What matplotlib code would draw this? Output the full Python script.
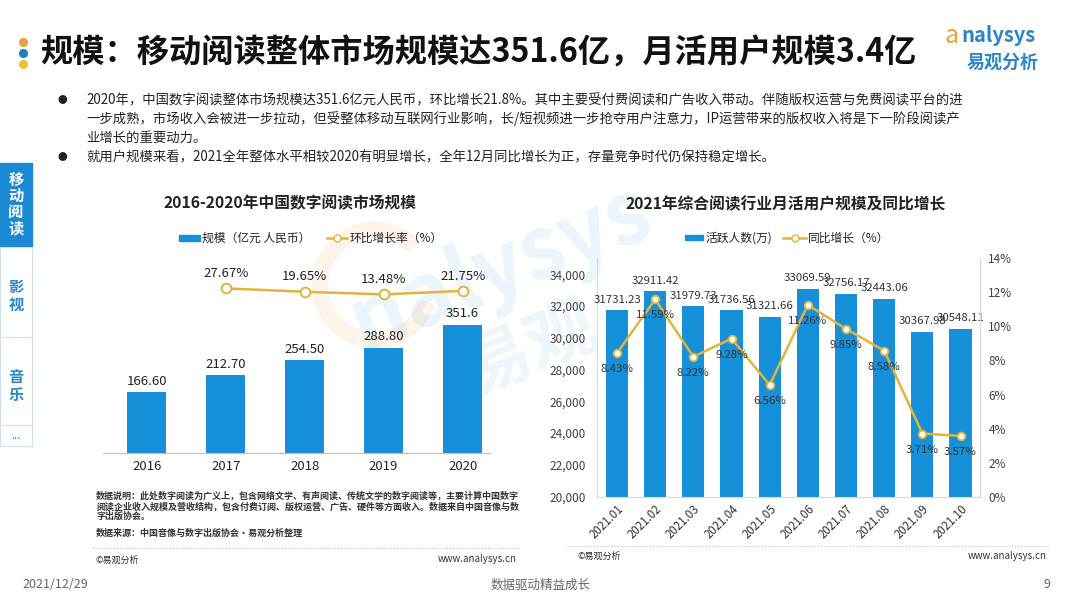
import matplotlib
matplotlib.use('Agg')
import matplotlib.pyplot as plt
from matplotlib.patches import Rectangle, Arc
from matplotlib.lines import Line2D
from matplotlib.ticker import FuncFormatter

plt.rcParams['font.family'] = ['Noto Sans CJK SC', 'DejaVu Sans']

# left chart data
years = ['2016', '2017', '2018', '2019', '2020']
market_size = [166.60, 212.70, 254.50, 288.80, 351.6]
size_labels = ['166.60', '212.70', '254.50', '288.80', '351.6']
growth_years = ['2017', '2018', '2019', '2020']
growth_rate = [27.67, 19.65, 13.48, 21.75]

# right chart data
months = ['2021.01', '2021.02', '2021.03', '2021.04', '2021.05',
          '2021.06', '2021.07', '2021.08', '2021.09', '2021.10']
mau = [31731.23, 32911.42, 31979.73, 31736.56, 31321.66,
       33069.59, 32756.17, 32443.06, 30367.98, 30548.11]
yoy = [8.43, 11.59, 8.22, 9.28, 6.56, 11.26, 9.85, 8.58, 3.71, 3.57]

BLUE = '#1690D8'
GOLD = '#E3B33D'
DARK = '#222222'

W, H = 1080, 608
fig = plt.figure(figsize=(10.8, 6.08), dpi=100)


def fx(x):
    return x / W


def fy(y):
    return 1 - y / H


def ftext(x, y, s, **kw):
    kw.setdefault('va', 'center')
    return fig.text(fx(x), fy(y), s, **kw)


# watermark behind the charts
ftext(500, 268, 'nalysys', fontsize=62, weight='bold', style='italic',
      color='#6AB2E2', alpha=0.13, rotation=22, ha='center', zorder=-5)
ftext(530, 350, '易观', fontsize=50, weight='bold', color='#6AB2E2',
      alpha=0.11, rotation=22, ha='center', zorder=-5)
fig.patches.append(Arc((fx(375), fy(285)), 110 / W, 110 / H, angle=0,
                       theta1=60, theta2=330, lw=12, color='#F2B25A',
                       alpha=0.12, transform=fig.transFigure, zorder=-5))

# title
for yy, c in zip([41.7, 52.7, 64], ['#E8A33C', '#1F7FBF', '#E8C33C']):
    fig.lines.append(Line2D([fx(22.7)], [fy(yy)], marker='o', ms=5.5,
                            color=c, transform=fig.transFigure))
ftext(40, 53, '规模：移动阅读整体市场规模达351.6亿，月活用户规模3.4亿',
      fontsize=23.2, weight='bold', color='#111111')

# logo
ftext(944, 36, 'a', fontsize=18, style='italic', color='#E9A23B')
ftext(961, 36, 'nalysys', fontsize=14.5, style='italic', weight='bold',
      color='#2B86C5')
ftext(1003, 62, '易观分析', fontsize=13, weight='bold', color='#2B86C5',
      ha='center')

# bullet text
bullets = [
    (100, True, '2020年，中国数字阅读整体市场规模达351.6亿元人民币，环比增长21.8%。其中主要受付费阅读和广告收入带动。伴随版权运营与免费阅读平台的进'),
    (119, False, '一步成熟，市场收入会被进一步拉动，但受整体移动互联网行业影响，长/短视频进一步抢夺用户注意力，IP运营带来的版权收入将是下一阶段阅读产'),
    (138, False, '业增长的重要动力。'),
    (157, True, '就用户规模来看，2021全年整体水平相较2020有明显增长，全年12月同比增长为正，存量竞争时代仍保持稳定增长。'),
]
for yy, dot, s in bullets:
    if dot:
        ftext(62, yy, '●', fontsize=7, color=DARK, ha='center')
    ftext(86, yy, s, fontsize=9.6, color=DARK)

# side navigation
fig.patches.append(Rectangle((0, fy(247)), 32 / W, 84 / H, color='#1A8AD4',
                             transform=fig.transFigure))
for i, ch in enumerate('移动阅读'):
    ftext(16, 180 + i * 16, ch, fontsize=11, weight='bold', color='white',
          ha='center')
for top, bot in [(247, 337), (337, 425), (425, 446)]:
    fig.patches.append(Rectangle((0, fy(bot)), 32 / W, (bot - top) / H,
                                 facecolor='white', edgecolor='#CFE0EE',
                                 lw=0.8, transform=fig.transFigure))
for i, ch in enumerate('影视'):
    ftext(16, 287 + i * 18, ch, fontsize=11, weight='bold', color='#2A8AC8',
          ha='center')
for i, ch in enumerate('音乐'):
    ftext(16, 377 + i * 18, ch, fontsize=11, weight='bold', color='#2A8AC8',
          ha='center')
ftext(16, 436, '...', fontsize=8, color='#2A8AC8', ha='center')

# ---------------- left chart ----------------
ftext(290, 203, '2016-2020年中国数字阅读市场规模', fontsize=11.3, weight='bold',
      color=DARK, ha='center')
fig.patches.append(Rectangle((fx(179), fy(241)), 21 / W, 6 / H, color=BLUE,
                             transform=fig.transFigure))
ftext(202, 238, '规模（亿元 人民币）', fontsize=8.5, color=DARK)
fig.lines.append(Line2D([fx(327), fx(347)], [fy(238)] * 2, color=GOLD, lw=1.8,
                        transform=fig.transFigure))
fig.lines.append(Line2D([fx(337)], [fy(238)], color=GOLD, marker='o', ms=5,
                        mfc='white', mec=GOLD, transform=fig.transFigure))
ftext(350, 238, '环比增长率（%）', fontsize=8.5, color=DARK)

ax1 = fig.add_axes([fx(103), fy(453), 387 / W, 188 / H])
ax1.patch.set_alpha(0)
x1 = list(range(len(years)))
ax1.bar(x1, market_size, width=0.5, color=BLUE)
for xi, v, s in zip(x1, market_size, size_labels):
    ax1.annotate(s, (xi, v), xytext=(0, 3), textcoords='offset points',
                 ha='center', va='bottom', fontsize=9.5, color=DARK)
ax1.set_xlim(-0.553, 4.346)
ax1.set_ylim(0, 515)
ax1.set_xticks(x1)
ax1.set_xticklabels(years, fontsize=9.5, color=DARK)
ax1.tick_params(axis='x', length=0, pad=5)
ax1.set_yticks([])
for s in ['top', 'left', 'right']:
    ax1.spines[s].set_visible(False)
ax1.spines['bottom'].set_color('#BFBFBF')

ax1b = ax1.twinx()
gx = [years.index(y) for y in growth_years]
ax1b.plot(gx, growth_rate, color=GOLD, lw=1.8, marker='o', ms=7,
          mfc='white', mec=GOLD, mew=1.4)
for xi, v in zip(gx, growth_rate):
    ax1b.annotate(f'{v:.2f}%', (xi, v), xytext=(0, 6),
                  textcoords='offset points', ha='center', va='bottom',
                  fontsize=9.5, color=DARK)
ax1b.set_ylim(-362, 83)
ax1b.set_yticks([])
for s in ax1b.spines.values():
    s.set_visible(False)

# left footnotes
notes = [
    (496, '数据说明：此处数字阅读为广义上，包含网络文学、有声阅读、传统文学的数字阅读等，主要计算中国数字'),
    (506.5, '阅读企业收入规模及营收结构，包含付费订阅、版权运营、广告、硬件等方面收入。数据来自中国音像与数'),
    (516, '字出版协会。'),
    (533, '数据来源：中国音像与数字出版协会·易观分析整理'),
]
for yy, s in notes:
    ftext(96, yy, s, fontsize=6.5, weight='bold', color='#333333')
fig.lines.append(Line2D([fx(93), fx(520)], [fy(548)] * 2, color='#BBBBBB',
                        lw=0.8, ls=':', transform=fig.transFigure))
ftext(96, 560, '©易观分析', fontsize=6.5, color='#333333')
ftext(517, 559, 'www.analysys.cn', fontsize=7, color='#333333', ha='right')

# ---------------- right chart ----------------
ftext(786, 204, '2021年综合阅读行业月活用户规模及同比增长', fontsize=11.3,
      weight='bold', color=DARK, ha='center')
fig.patches.append(Rectangle((fx(685), fy(240)), 18 / W, 5 / H, color=BLUE,
                             transform=fig.transFigure))
ftext(706, 238, '活跃人数(万)', fontsize=8.5, color=DARK)
fig.lines.append(Line2D([fx(783), fx(806)], [fy(238)] * 2, color=GOLD, lw=1.8,
                        transform=fig.transFigure))
fig.lines.append(Line2D([fx(795)], [fy(238)], color=GOLD, marker='o', ms=5,
                        mfc='white', mec=GOLD, transform=fig.transFigure))
ftext(808, 238, '同比增长（%）', fontsize=8.5, color=DARK)

ax2 = fig.add_axes([fx(597), fy(496.7), 383 / W, 238.4 / H])
ax2.patch.set_alpha(0)
x2 = list(range(len(months)))
ax2.bar(x2, mau, width=0.58, color=BLUE)
for xi, v in zip(x2, mau):
    ax2.annotate(f'{v:.2f}', (xi, v), xytext=(0, 4), textcoords='offset points',
                 ha='center', va='bottom', fontsize=8.2, color='#333333')
ax2.set_xlim(-0.524, 9.51)
ax2.set_ylim(20000, 35000)
ax2.set_yticks(range(20000, 34001, 2000))
ax2.yaxis.set_major_formatter(FuncFormatter(lambda v, p: f'{int(v):,}'))
ax2.set_xticks(x2)
ax2.set_xticklabels(months, rotation=45, ha='right', va='top',
                    rotation_mode='anchor', fontsize=8.3, color='#333333')
ax2.tick_params(axis='x', length=0, pad=4)
ax2.tick_params(axis='y', length=0, pad=8, labelsize=8.5, labelcolor='#404040')
ax2.spines['top'].set_visible(False)
ax2.spines['right'].set_visible(False)
ax2.spines['left'].set_color('#D9D9D9')
ax2.spines['bottom'].set_color('#D9D9D9')

ax2b = ax2.twinx()
ax2b.plot(x2, yoy, color=GOLD, lw=1.8, marker='o', ms=5.5, mfc='white',
          mec=GOLD, mew=1.3)
for xi, v in zip(x2, yoy):
    ax2b.annotate(f'{v:.2f}%', (xi, v), xytext=(0, -8),
                  textcoords='offset points', ha='center', va='top',
                  fontsize=8.2, color='#333333')
ax2b.set_ylim(0, 14)
ax2b.set_yticks(range(0, 15, 2))
ax2b.yaxis.set_major_formatter(FuncFormatter(lambda v, p: f'{int(v)}%'))
ax2b.tick_params(axis='y', length=0, pad=6, labelsize=8.5, labelcolor='#404040')
for s in ['top', 'left', 'bottom']:
    ax2b.spines[s].set_visible(False)
ax2b.spines['right'].set_color('#D9D9D9')

fig.lines.append(Line2D([fx(567), fx(1050)], [fy(546)] * 2, color='#BBBBBB',
                        lw=0.8, ls=':', transform=fig.transFigure))
ftext(577, 556, '©易观分析', fontsize=6.5, color='#333333')
ftext(1047, 556, 'www.analysys.cn', fontsize=7, color='#333333', ha='right')

# page footer
ftext(22, 585, '2021/12/29', fontsize=9, color='#666666')
ftext(541, 585, '数据驱动精益成长', fontsize=9, color='#666666', ha='center')
ftext(1050, 585, '9', fontsize=9, color='#666666', ha='right')

fig.savefig('out.png', dpi=100)
